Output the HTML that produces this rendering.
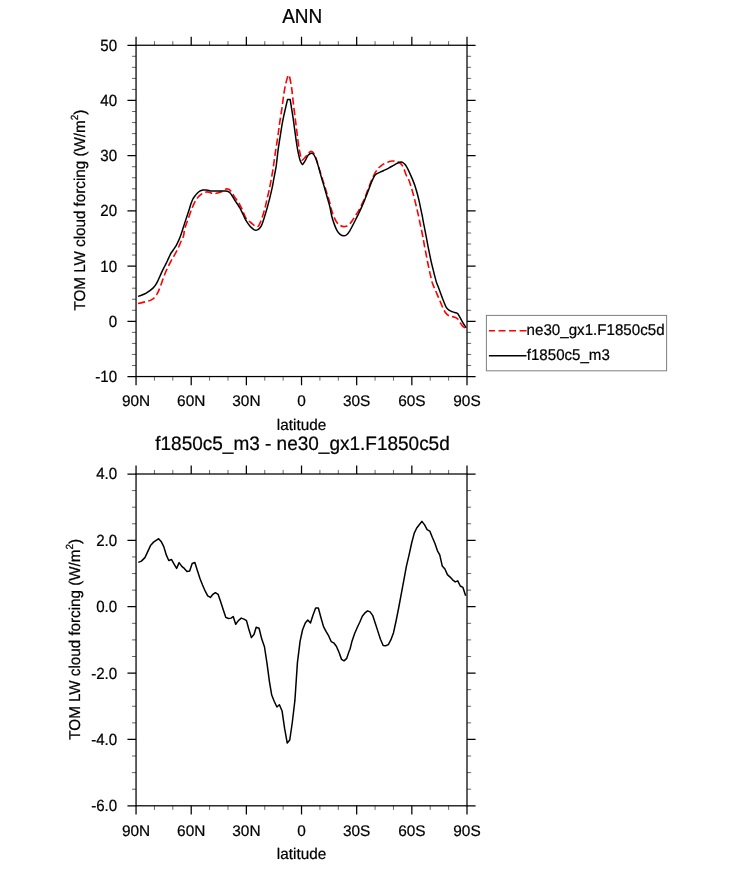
<!DOCTYPE html><html><head><meta charset="utf-8"><title>ANN TOM LW cloud forcing</title>
<style>html,body{margin:0;padding:0;background:#fff}svg{display:block}text{font-family:"Liberation Sans",Arial,Helvetica,sans-serif;fill:#000;stroke:#000;stroke-width:0.22px;text-rendering:geometricPrecision}</style></head><body>
<svg width="733" height="869" viewBox="0 0 733 869">
<rect width="733" height="869" fill="#fff"/>
<rect x="136.05" y="45.25" width="330.95" height="331.30" fill="none" stroke="#000" stroke-width="1.25"/>
<path d="M136.05,45.25 v-8.6 M136.05,376.55 v8.6 M191.21,45.25 v-8.6 M191.21,376.55 v8.6 M246.37,45.25 v-8.6 M246.37,376.55 v8.6 M301.52,45.25 v-8.6 M301.52,376.55 v8.6 M356.68,45.25 v-8.6 M356.68,376.55 v8.6 M411.84,45.25 v-8.6 M411.84,376.55 v8.6 M467.00,45.25 v-8.6 M467.00,376.55 v8.6 M136.05,45.25 h-8.6 M467.0,45.25 h8.6 M136.05,100.47 h-8.6 M467.0,100.47 h8.6 M136.05,155.68 h-8.6 M467.0,155.68 h8.6 M136.05,210.90 h-8.6 M467.0,210.90 h8.6 M136.05,266.12 h-8.6 M467.0,266.12 h8.6 M136.05,321.33 h-8.6 M467.0,321.33 h8.6 M136.05,376.55 h-8.6 M467.0,376.55 h8.6 " stroke="#000" stroke-width="1.25" fill="none"/>
<path d="M154.44,45.25 v-4.1 M154.44,376.55 v4.1 M172.82,45.25 v-4.1 M172.82,376.55 v4.1 M209.59,45.25 v-4.1 M209.59,376.55 v4.1 M227.98,45.25 v-4.1 M227.98,376.55 v4.1 M264.75,45.25 v-4.1 M264.75,376.55 v4.1 M283.14,45.25 v-4.1 M283.14,376.55 v4.1 M319.91,45.25 v-4.1 M319.91,376.55 v4.1 M338.30,45.25 v-4.1 M338.30,376.55 v4.1 M375.07,45.25 v-4.1 M375.07,376.55 v4.1 M393.46,45.25 v-4.1 M393.46,376.55 v4.1 M430.23,45.25 v-4.1 M430.23,376.55 v4.1 M448.61,45.25 v-4.1 M448.61,376.55 v4.1 M136.05,56.29 h-4.1 M467.0,56.29 h4.1 M136.05,67.34 h-4.1 M467.0,67.34 h4.1 M136.05,78.38 h-4.1 M467.0,78.38 h4.1 M136.05,89.42 h-4.1 M467.0,89.42 h4.1 M136.05,111.51 h-4.1 M467.0,111.51 h4.1 M136.05,122.55 h-4.1 M467.0,122.55 h4.1 M136.05,133.60 h-4.1 M467.0,133.60 h4.1 M136.05,144.64 h-4.1 M467.0,144.64 h4.1 M136.05,166.73 h-4.1 M467.0,166.73 h4.1 M136.05,177.77 h-4.1 M467.0,177.77 h4.1 M136.05,188.81 h-4.1 M467.0,188.81 h4.1 M136.05,199.86 h-4.1 M467.0,199.86 h4.1 M136.05,221.94 h-4.1 M467.0,221.94 h4.1 M136.05,232.99 h-4.1 M467.0,232.99 h4.1 M136.05,244.03 h-4.1 M467.0,244.03 h4.1 M136.05,255.07 h-4.1 M467.0,255.07 h4.1 M136.05,277.16 h-4.1 M467.0,277.16 h4.1 M136.05,288.20 h-4.1 M467.0,288.20 h4.1 M136.05,299.25 h-4.1 M467.0,299.25 h4.1 M136.05,310.29 h-4.1 M467.0,310.29 h4.1 M136.05,332.38 h-4.1 M467.0,332.38 h4.1 M136.05,343.42 h-4.1 M467.0,343.42 h4.1 M136.05,354.46 h-4.1 M467.0,354.46 h4.1 M136.05,365.51 h-4.1 M467.0,365.51 h4.1 " stroke="#000" stroke-width="0.6" fill="none"/>
<text transform="translate(136.05,406.40) scale(1,1)" font-size="15.4" text-anchor="middle">90N</text>
<text transform="translate(191.21,406.40) scale(1,1)" font-size="15.4" text-anchor="middle">60N</text>
<text transform="translate(246.37,406.40) scale(1,1)" font-size="15.4" text-anchor="middle">30N</text>
<text transform="translate(301.52,406.40) scale(1,1)" font-size="15.4" text-anchor="middle">0</text>
<text transform="translate(356.68,406.40) scale(1,1)" font-size="15.4" text-anchor="middle">30S</text>
<text transform="translate(411.84,406.40) scale(1,1)" font-size="15.4" text-anchor="middle">60S</text>
<text transform="translate(467.00,406.40) scale(1,1)" font-size="15.4" text-anchor="middle">90S</text>
<text transform="translate(117.15,50.68) scale(1,1.075)" font-size="15.1" text-anchor="end">50</text>
<text transform="translate(117.15,105.90) scale(1,1.075)" font-size="15.1" text-anchor="end">40</text>
<text transform="translate(117.15,161.11) scale(1,1.075)" font-size="15.1" text-anchor="end">30</text>
<text transform="translate(117.15,216.33) scale(1,1.075)" font-size="15.1" text-anchor="end">20</text>
<text transform="translate(117.15,271.55) scale(1,1.075)" font-size="15.1" text-anchor="end">10</text>
<text transform="translate(117.15,326.76) scale(1,1.075)" font-size="15.1" text-anchor="end">0</text>
<text transform="translate(117.15,381.98) scale(1,1.075)" font-size="15.1" text-anchor="end">-10</text>
<text transform="translate(301.52,429.80) scale(1,1.01)" font-size="15.3" text-anchor="middle">latitude</text>
<rect x="136.05" y="474.0" width="330.95" height="331.80" fill="none" stroke="#000" stroke-width="1.25"/>
<path d="M136.05,474.0 v-8.6 M136.05,805.8 v8.6 M191.21,474.0 v-8.6 M191.21,805.8 v8.6 M246.37,474.0 v-8.6 M246.37,805.8 v8.6 M301.52,474.0 v-8.6 M301.52,805.8 v8.6 M356.68,474.0 v-8.6 M356.68,805.8 v8.6 M411.84,474.0 v-8.6 M411.84,805.8 v8.6 M467.00,474.0 v-8.6 M467.00,805.8 v8.6 M136.05,474.00 h-8.6 M467.0,474.00 h8.6 M136.05,540.36 h-8.6 M467.0,540.36 h8.6 M136.05,606.72 h-8.6 M467.0,606.72 h8.6 M136.05,673.08 h-8.6 M467.0,673.08 h8.6 M136.05,739.44 h-8.6 M467.0,739.44 h8.6 M136.05,805.80 h-8.6 M467.0,805.80 h8.6 " stroke="#000" stroke-width="1.25" fill="none"/>
<path d="M154.44,474.0 v-4.1 M154.44,805.8 v4.1 M172.82,474.0 v-4.1 M172.82,805.8 v4.1 M209.59,474.0 v-4.1 M209.59,805.8 v4.1 M227.98,474.0 v-4.1 M227.98,805.8 v4.1 M264.75,474.0 v-4.1 M264.75,805.8 v4.1 M283.14,474.0 v-4.1 M283.14,805.8 v4.1 M319.91,474.0 v-4.1 M319.91,805.8 v4.1 M338.30,474.0 v-4.1 M338.30,805.8 v4.1 M375.07,474.0 v-4.1 M375.07,805.8 v4.1 M393.46,474.0 v-4.1 M393.46,805.8 v4.1 M430.23,474.0 v-4.1 M430.23,805.8 v4.1 M448.61,474.0 v-4.1 M448.61,805.8 v4.1 M136.05,490.59 h-4.1 M467.0,490.59 h4.1 M136.05,507.18 h-4.1 M467.0,507.18 h4.1 M136.05,523.77 h-4.1 M467.0,523.77 h4.1 M136.05,556.95 h-4.1 M467.0,556.95 h4.1 M136.05,573.54 h-4.1 M467.0,573.54 h4.1 M136.05,590.13 h-4.1 M467.0,590.13 h4.1 M136.05,623.31 h-4.1 M467.0,623.31 h4.1 M136.05,639.90 h-4.1 M467.0,639.90 h4.1 M136.05,656.49 h-4.1 M467.0,656.49 h4.1 M136.05,689.67 h-4.1 M467.0,689.67 h4.1 M136.05,706.26 h-4.1 M467.0,706.26 h4.1 M136.05,722.85 h-4.1 M467.0,722.85 h4.1 M136.05,756.03 h-4.1 M467.0,756.03 h4.1 M136.05,772.62 h-4.1 M467.0,772.62 h4.1 M136.05,789.21 h-4.1 M467.0,789.21 h4.1 " stroke="#000" stroke-width="0.6" fill="none"/>
<text transform="translate(136.05,835.65) scale(1,1)" font-size="15.4" text-anchor="middle">90N</text>
<text transform="translate(191.21,835.65) scale(1,1)" font-size="15.4" text-anchor="middle">60N</text>
<text transform="translate(246.37,835.65) scale(1,1)" font-size="15.4" text-anchor="middle">30N</text>
<text transform="translate(301.52,835.65) scale(1,1)" font-size="15.4" text-anchor="middle">0</text>
<text transform="translate(356.68,835.65) scale(1,1)" font-size="15.4" text-anchor="middle">30S</text>
<text transform="translate(411.84,835.65) scale(1,1)" font-size="15.4" text-anchor="middle">60S</text>
<text transform="translate(467.00,835.65) scale(1,1)" font-size="15.4" text-anchor="middle">90S</text>
<text transform="translate(117.15,479.43) scale(1,1.075)" font-size="15.1" text-anchor="end">4.0</text>
<text transform="translate(117.15,545.79) scale(1,1.075)" font-size="15.1" text-anchor="end">2.0</text>
<text transform="translate(117.15,612.15) scale(1,1.075)" font-size="15.1" text-anchor="end">0.0</text>
<text transform="translate(117.15,678.51) scale(1,1.075)" font-size="15.1" text-anchor="end">-2.0</text>
<text transform="translate(117.15,744.87) scale(1,1.075)" font-size="15.1" text-anchor="end">-4.0</text>
<text transform="translate(117.15,811.23) scale(1,1.075)" font-size="15.1" text-anchor="end">-6.0</text>
<text transform="translate(301.52,859.05) scale(1,1.01)" font-size="15.3" text-anchor="middle">latitude</text>
<text transform="translate(302.2,23.0) scale(1,1.063)" font-size="19" text-anchor="middle">ANN</text>
<text transform="translate(302.5,449.6) scale(1,1.025)" font-size="19" text-anchor="middle" textLength="294.5" lengthAdjust="spacing">f1850c5_m3 - ne30_gx1.F1850c5d</text>
<text transform="translate(85.3,210.1) rotate(-90) scale(1,1.03)" font-size="15.2" text-anchor="middle">TOM LW cloud forcing (W/m<tspan font-size="10" dy="-6.7">2</tspan><tspan dy="6.7">)</tspan></text>
<text transform="translate(80.1,639.3) rotate(-90) scale(1,1.03)" font-size="15.2" text-anchor="middle">TOM LW cloud forcing (W/m<tspan font-size="10" dy="-6.7">2</tspan><tspan dy="6.7">)</tspan></text>
<path d="M137.98,303.54 C138.67,303.38 140.66,302.97 142.12,302.62 C143.58,302.26 145.26,301.84 146.72,301.42 C148.18,301.01 149.63,300.70 150.86,300.13 C152.09,299.57 153.08,298.98 154.08,298.02 C155.08,297.05 156.07,295.56 156.84,294.34 C157.61,293.11 157.99,292.27 158.68,290.66 C159.37,289.05 160.21,286.75 160.98,284.68 C161.75,282.61 162.51,280.31 163.28,278.24 C164.05,276.17 164.74,274.25 165.58,272.26 C166.42,270.27 167.42,268.20 168.34,266.28 C169.26,264.36 170.18,262.45 171.10,260.76 C172.02,259.07 172.94,257.77 173.86,256.16 C174.78,254.55 175.77,252.71 176.62,251.10 C177.46,249.49 178.15,248.19 178.92,246.50 C179.68,244.81 180.45,242.74 181.22,240.98 C181.98,239.22 182.95,237.86 183.52,235.92 C184.08,233.98 184.04,231.58 184.60,229.34 C185.16,227.09 186.13,224.66 186.90,222.44 C187.67,220.21 188.43,218.14 189.20,216.00 C189.97,213.85 190.73,211.55 191.50,209.56 C192.27,207.57 193.03,205.65 193.80,204.04 C194.57,202.43 195.33,201.13 196.10,199.90 C196.87,198.67 197.56,197.60 198.40,196.68 C199.24,195.76 200.16,195.07 201.16,194.38 C202.16,193.69 203.38,192.95 204.38,192.54 C205.38,192.13 206.22,191.90 207.14,191.90 C208.06,191.90 208.98,192.28 209.90,192.54 C210.82,192.80 211.74,193.31 212.66,193.46 C213.58,193.61 214.50,193.57 215.42,193.46 C216.34,193.35 217.26,193.05 218.18,192.82 C219.10,192.59 220.10,192.43 220.94,192.08 C221.78,191.73 222.47,191.19 223.24,190.70 C224.00,190.21 224.77,189.41 225.54,189.14 C226.30,188.86 227.07,188.86 227.84,189.04 C228.60,189.23 229.37,189.50 230.14,190.24 C230.90,190.98 231.59,192.16 232.44,193.46 C233.28,194.76 234.26,196.68 235.20,198.06 C236.13,199.43 237.27,200.58 238.05,201.71 C238.83,202.83 239.27,203.72 239.88,204.82 C240.49,205.91 241.10,206.95 241.71,208.29 C242.32,209.63 242.93,211.39 243.54,212.87 C244.15,214.34 244.76,215.97 245.37,217.13 C245.98,218.30 246.48,219.12 247.20,219.88 C247.91,220.64 248.82,221.10 249.63,221.71 C250.45,222.32 251.26,222.88 252.07,223.54 C252.89,224.20 253.75,225.11 254.51,225.67 C255.27,226.23 255.99,226.84 256.65,226.89 C257.31,226.94 257.97,226.48 258.48,225.98 C258.98,225.47 259.11,225.17 259.70,223.84 C260.28,222.51 261.17,220.48 262.01,217.99 C262.86,215.50 263.94,211.94 264.76,208.90 C265.57,205.86 266.18,202.80 266.89,199.76 C267.60,196.71 268.36,193.66 269.02,190.61 C269.68,187.56 270.24,184.72 270.85,181.46 C271.46,178.21 272.23,173.84 272.68,171.10 C273.14,168.35 273.12,168.28 273.60,165.00 C274.07,161.72 274.82,156.12 275.52,151.40 C276.22,146.68 277.13,141.43 277.82,136.68 C278.51,131.93 278.97,127.65 279.66,122.88 C280.35,118.11 281.27,112.84 281.96,108.08 C282.65,103.31 283.19,98.26 283.80,94.28 C284.41,90.29 284.93,87.29 285.64,84.16 C286.34,81.03 288.03,75.51 288.03,75.51 C288.03,75.51 289.32,75.51 289.32,75.51 C289.32,75.51 290.93,83.02 291.62,87.84 C292.31,92.65 292.85,99.17 293.46,104.40 C294.07,109.62 294.76,114.89 295.30,119.20 C295.84,123.51 296.22,126.56 296.68,130.24 C297.14,133.92 297.60,137.91 298.06,141.28 C298.52,144.65 298.98,147.87 299.44,150.48 C299.90,153.08 300.36,155.31 300.82,156.92 C301.28,158.53 301.42,160.14 302.20,160.14 C302.98,160.13 304.51,158.05 305.52,156.90 C306.53,155.75 307.36,154.14 308.28,153.22 C309.20,152.30 310.20,151.46 311.04,151.38 C311.88,151.30 312.57,151.76 313.34,152.76 C314.11,153.76 314.87,155.37 315.64,157.36 C316.41,159.35 317.17,162.27 317.94,164.72 C318.71,167.17 319.47,169.63 320.24,172.08 C321.01,174.53 321.77,176.99 322.54,179.44 C323.31,181.89 324.07,184.35 324.84,186.80 C325.61,189.25 326.37,191.70 327.14,194.16 C327.91,196.61 328.66,198.71 329.44,201.52 C330.22,204.32 331.06,208.34 331.84,211.00 C332.62,213.65 333.30,215.52 334.14,217.44 C334.98,219.35 335.90,221.19 336.90,222.50 C337.90,223.80 338.97,224.57 340.12,225.26 C341.27,225.95 342.65,226.53 343.80,226.64 C344.95,226.74 346.02,226.36 347.02,225.90 C348.02,225.44 348.86,224.83 349.78,223.88 C350.70,222.93 351.54,221.65 352.54,220.20 C353.54,218.74 354.69,216.82 355.76,215.14 C356.83,213.45 357.98,211.84 358.98,210.08 C359.98,208.31 360.82,206.48 361.74,204.56 C362.66,202.64 363.66,200.57 364.50,198.58 C365.34,196.59 366.03,194.59 366.80,192.60 C367.57,190.61 368.33,188.61 369.10,186.62 C369.87,184.63 370.63,182.48 371.40,180.64 C372.16,178.80 372.93,177.11 373.70,175.58 C374.46,174.05 375.23,172.67 376.00,171.44 C376.76,170.21 377.45,169.14 378.30,168.22 C379.14,167.30 380.21,166.59 381.06,165.92 C381.90,165.25 382.19,164.81 383.38,164.17 C384.57,163.53 386.80,162.61 388.22,162.08 C389.64,161.55 390.67,161.10 391.90,160.98 C393.13,160.85 394.43,161.13 395.58,161.34 C396.73,161.56 397.80,161.76 398.80,162.26 C399.80,162.77 400.72,163.34 401.56,164.38 C402.40,165.42 403.09,166.76 403.86,168.52 C404.63,170.28 405.33,173.05 406.16,174.96 C406.99,176.87 408.09,178.25 408.84,180.00 C409.59,181.75 410.06,183.56 410.67,185.49 C411.28,187.42 411.89,189.45 412.50,191.59 C413.11,193.72 413.75,196.06 414.33,198.29 C414.91,200.53 415.44,202.76 415.98,205.00 C416.51,207.24 417.05,209.47 417.56,211.71 C418.07,213.94 418.55,216.18 419.02,218.41 C419.50,220.65 419.99,223.09 420.43,225.12 C420.86,227.15 421.16,228.22 421.65,230.61 C422.13,233.00 422.84,236.74 423.33,239.44 C423.83,242.14 424.16,244.35 424.62,246.80 C425.08,249.25 425.62,251.70 426.09,254.16 C426.57,256.61 426.98,259.06 427.47,261.52 C427.97,263.97 428.50,266.42 429.04,268.88 C429.58,271.33 430.11,273.78 430.69,276.24 C431.28,278.69 431.78,281.31 432.53,283.60 C433.29,285.88 434.33,287.83 435.24,289.96 C436.15,292.09 437.08,294.25 438.00,296.40 C438.92,298.54 439.92,300.84 440.76,302.84 C441.60,304.83 442.29,306.75 443.06,308.36 C443.83,309.97 444.52,311.35 445.36,312.50 C446.20,313.65 447.05,314.60 448.12,315.26 C449.19,315.92 450.57,316.07 451.80,316.45 C453.03,316.84 454.48,317.14 455.48,317.56 C456.48,317.97 457.01,318.09 457.78,318.94 C458.54,319.78 459.31,321.47 460.08,322.62 C460.84,323.77 461.43,324.87 462.38,325.84 C463.33,326.80 465.02,327.77 465.78,328.41 C466.54,329.05 466.75,329.47 466.94,329.69" fill="none" stroke="#ff0000" stroke-width="1.6" stroke-dasharray="7.3 3.2"/>
<path d="M137.98,296.36 C138.67,296.13 140.82,295.47 142.12,294.98 C143.42,294.49 144.57,294.09 145.80,293.42 C147.03,292.74 148.33,291.78 149.48,290.93 C150.63,290.09 151.70,289.32 152.70,288.36 C153.70,287.39 154.62,286.36 155.46,285.14 C156.30,283.91 156.99,282.53 157.76,281.00 C158.53,279.46 159.29,277.62 160.06,275.94 C160.83,274.25 161.59,272.49 162.36,270.88 C163.13,269.27 163.82,267.97 164.66,266.28 C165.50,264.59 166.58,262.52 167.42,260.76 C168.26,259.00 169.11,257.00 169.72,255.70 C170.33,254.40 171.10,252.94 171.10,252.94 C171.10,252.94 172.56,250.95 173.40,249.72 C174.24,248.49 175.39,246.88 176.16,245.58 C176.92,244.28 177.38,243.20 178.00,241.90 C178.61,240.60 179.12,239.62 179.84,237.76 C180.56,235.90 181.51,233.12 182.30,230.72 C183.09,228.32 183.83,225.73 184.60,223.36 C185.37,220.98 186.13,218.76 186.90,216.46 C187.67,214.16 188.51,211.70 189.20,209.56 C189.89,207.41 190.43,205.34 191.04,203.58 C191.65,201.82 192.27,200.21 192.88,198.98 C193.49,197.75 194.03,197.14 194.72,196.22 C195.41,195.30 196.18,194.30 197.02,193.46 C197.86,192.62 198.78,191.73 199.78,191.16 C200.78,190.59 201.93,190.25 203.00,190.06 C204.07,189.86 205.15,189.86 206.22,189.96 C207.29,190.07 208.29,190.53 209.44,190.70 C210.59,190.87 211.89,190.93 213.12,190.98 C214.35,191.02 215.57,190.98 216.80,190.98 C218.03,190.98 219.25,190.98 220.48,190.98 C221.70,190.98 223.01,190.94 224.16,190.98 C225.31,191.01 226.46,190.90 227.38,191.16 C228.30,191.42 228.83,191.70 229.68,192.54 C230.52,193.38 231.52,194.84 232.44,196.22 C233.36,197.60 234.36,199.50 235.20,200.82 C236.03,202.14 236.66,202.95 237.44,204.15 C238.22,205.34 239.07,206.53 239.88,207.99 C240.69,209.44 241.50,211.19 242.32,212.87 C243.13,214.54 243.94,216.47 244.76,218.05 C245.57,219.62 246.38,221.05 247.20,222.32 C248.01,223.59 248.82,224.71 249.63,225.67 C250.45,226.64 251.36,227.45 252.07,228.11 C252.78,228.77 253.29,229.28 253.90,229.63 C254.51,229.99 255.07,230.24 255.73,230.24 C256.39,230.24 257.15,230.04 257.87,229.63 C258.58,229.23 259.34,228.62 260.00,227.80 C260.66,226.99 261.14,226.39 261.83,224.76 C262.52,223.12 263.25,220.83 264.15,217.99 C265.04,215.14 266.23,211.13 267.20,207.68 C268.16,204.24 269.13,200.57 269.94,197.32 C270.75,194.07 271.41,191.32 272.07,188.17 C272.73,185.02 273.34,181.36 273.90,178.41 C274.46,175.47 275.02,172.72 275.43,170.49 C275.83,168.25 275.87,168.64 276.34,165.00 C276.82,161.36 277.57,153.82 278.28,148.64 C278.99,143.46 279.81,138.67 280.58,133.92 C281.35,129.17 281.73,125.84 282.88,120.12 C284.03,114.40 287.50,99.60 287.50,99.60 C287.50,99.60 290.20,99.60 290.20,99.60 C290.20,99.60 292.30,112.71 293.00,117.36 C293.70,122.01 293.92,124.11 294.38,127.48 C294.84,130.85 295.30,134.38 295.76,137.60 C296.22,140.82 296.68,144.04 297.14,146.80 C297.60,149.56 298.06,152.01 298.52,154.16 C298.98,156.30 299.44,158.22 299.90,159.68 C300.36,161.13 300.80,162.13 301.28,162.90 C301.76,163.66 302.05,164.72 302.76,164.26 C303.47,163.80 304.60,161.65 305.52,160.12 C306.44,158.59 307.28,156.21 308.28,155.06 C309.28,153.91 310.58,153.30 311.50,153.22 C312.42,153.14 313.03,153.60 313.80,154.60 C314.57,155.60 315.33,157.21 316.10,159.20 C316.87,161.19 317.63,163.95 318.40,166.56 C319.17,169.17 319.93,172.16 320.70,174.84 C321.47,177.52 322.23,180.05 323.00,182.66 C323.77,185.27 324.53,187.80 325.30,190.48 C326.07,193.16 326.83,196.00 327.60,198.76 C328.37,201.52 329.19,204.08 329.90,207.04 C330.61,210.00 331.13,213.71 331.84,216.52 C332.55,219.32 333.30,221.58 334.14,223.88 C334.98,226.18 335.90,228.55 336.90,230.32 C337.90,232.08 338.97,233.54 340.12,234.46 C341.27,235.38 342.65,235.84 343.80,235.84 C344.95,235.84 346.02,235.30 347.02,234.46 C348.02,233.61 348.86,232.23 349.78,230.78 C350.70,229.32 351.54,227.63 352.54,225.72 C353.54,223.80 354.69,221.42 355.76,219.28 C356.83,217.13 357.98,214.91 358.98,212.84 C359.98,210.77 360.82,208.93 361.74,206.86 C362.66,204.79 363.66,202.49 364.50,200.42 C365.34,198.35 366.03,196.43 366.80,194.44 C367.57,192.45 368.33,190.45 369.10,188.46 C369.87,186.47 370.63,184.32 371.40,182.48 C372.16,180.64 373.01,178.72 373.70,177.42 C374.39,176.12 375.54,174.66 375.54,174.66 C375.54,174.66 376.61,173.88 377.38,173.46 C378.14,173.05 379.14,172.64 380.14,172.18 C381.13,171.72 382.55,171.08 383.36,170.70 C384.17,170.32 384.11,170.34 385.00,169.90 C385.89,169.46 387.45,168.70 388.68,168.06 C389.91,167.41 391.13,166.72 392.36,166.03 C393.59,165.34 394.97,164.50 396.04,163.92 C397.11,163.34 397.96,162.85 398.80,162.54 C399.64,162.23 400.33,162.00 401.10,162.08 C401.87,162.16 402.63,162.46 403.40,163.00 C404.17,163.54 404.93,164.23 405.70,165.30 C406.47,166.37 407.16,167.75 408.00,169.44 C408.84,171.13 409.84,173.35 410.76,175.42 C411.68,177.49 412.77,179.98 413.52,181.86 C414.27,183.74 414.60,184.68 415.24,186.71 C415.89,188.73 416.72,191.59 417.38,194.02 C418.04,196.46 418.65,198.90 419.21,201.34 C419.77,203.78 420.22,206.22 420.73,208.66 C421.24,211.10 421.80,213.64 422.26,215.98 C422.71,218.31 423.07,220.55 423.48,222.68 C423.88,224.82 424.15,225.99 424.70,228.78 C425.24,231.57 426.17,236.44 426.74,239.44 C427.31,242.44 427.66,244.42 428.12,246.80 C428.58,249.18 429.01,251.32 429.50,253.70 C429.99,256.07 430.53,258.68 431.06,261.06 C431.60,263.43 432.14,265.58 432.72,267.96 C433.30,270.33 433.91,272.86 434.56,275.32 C435.20,277.77 436.01,280.85 436.58,282.68 C437.16,284.50 437.30,284.45 438.00,286.28 C438.70,288.11 439.84,291.19 440.76,293.64 C441.68,296.09 442.60,298.70 443.52,301.00 C444.44,303.30 445.36,305.90 446.28,307.44 C447.20,308.97 447.97,309.46 449.04,310.20 C450.11,310.93 451.57,311.42 452.72,311.85 C453.87,312.28 455.10,312.47 455.94,312.77 C456.78,313.08 457.78,313.69 457.78,313.69 C457.78,313.69 459.23,316.07 460.08,317.56 C460.92,319.04 461.83,320.92 462.84,322.62 C463.85,324.32 465.60,326.91 466.15,327.77" fill="none" stroke="#000" stroke-width="1.5" stroke-linejoin="round"/>
<path d="M138.29,562.38 L141.40,561.14 L144.92,557.62 L147.62,551.81 L150.73,545.18 L153.83,541.87 L156.94,539.79 L158.60,538.76 L161.09,541.45 L163.78,546.63 L166.27,554.92 L168.76,560.52 L171.45,559.48 L173.94,563.83 L176.63,568.39 L179.12,562.59 L181.81,566.32 L184.30,568.39 L186.99,571.50 L189.69,571.09 L192.18,563.42 L194.87,562.59 L197.36,570.47 L200.05,578.76 L202.54,584.97 L205.23,591.19 L207.72,595.96 L210.41,597.41 L212.90,594.30 L215.39,592.64 L218.08,594.30 L220.57,601.55 L223.26,609.84 L225.75,617.31 L228.45,618.55 L231.14,618.13 L233.21,616.48 L235.70,624.35 L238.39,620.62 L241.30,618.13 L243.99,619.17 L246.48,620.62 L248.70,628.70 L251.40,637.62 L254.09,634.30 L256.17,627.25 L259.07,628.29 L261.76,639.07 L264.46,646.74 L266.94,662.90 L269.43,681.55 L271.71,695.03 L274.20,701.24 L276.89,707.05 L279.38,704.77 L282.07,710.98 L284.56,728.19 L287.25,743.11 L289.74,740.00 L292.23,723.01 L294.92,700.21 L297.41,662.90 L300.10,641.14 L302.59,629.74 L305.28,622.90 L307.77,620.00 L310.47,622.90 L312.95,615.23 L315.65,607.98 L318.34,607.98 L320.83,617.31 L323.52,626.63 L326.01,631.40 L328.70,635.96 L331.19,641.55 L333.68,642.80 L336.37,646.32 L339.07,652.54 L341.55,659.38 L344.04,660.83 L346.74,658.34 L349.22,650.88 L350.00,649.22 L352.07,640.93 L354.56,633.68 L357.25,627.46 L359.74,622.28 L362.44,616.06 L364.92,612.95 L367.62,610.88 L370.10,611.92 L372.80,615.65 L375.28,623.32 L377.98,631.61 L380.47,639.27 L383.16,645.49 L385.65,645.70 L388.34,644.66 L390.83,639.90 L393.52,632.64 L396.01,621.24 L398.70,607.77 L401.19,594.30 L403.89,579.79 L406.37,566.32 L409.07,554.92 L411.55,543.52 L414.25,533.16 L416.74,527.98 L419.43,524.46 L421.92,521.35 L424.61,524.87 L427.10,529.64 L429.79,531.09 L432.28,537.31 L434.97,543.52 L437.46,550.78 L439.74,554.92 L442.23,565.91 L444.92,569.02 L447.41,574.61 L450.10,577.10 L452.59,579.79 L455.28,581.87 L457.77,580.83 L460.26,586.01 L462.95,587.46 L465.65,595.75" fill="none" stroke="#000" stroke-width="1.5" stroke-linejoin="round"/>
<rect x="486.4" y="315.4" width="180.2" height="55.4" fill="#fff" stroke="#7f7f7f" stroke-width="1"/>
<path d="M488.9,330.8 H526.5" stroke="#ff0000" stroke-width="1.55" stroke-dasharray="6.9 3.6" stroke-dashoffset="0.8"/>
<path d="M488.9,355.8 H526.5" stroke="#000" stroke-width="1.5"/>
<text x="526.6" y="335.1" font-size="15.5" textLength="138" lengthAdjust="spacingAndGlyphs">ne30_gx1.F1850c5d</text>
<text x="526.8" y="360.2" font-size="15.5" textLength="83" lengthAdjust="spacingAndGlyphs">f1850c5_m3</text>
</svg></body></html>
